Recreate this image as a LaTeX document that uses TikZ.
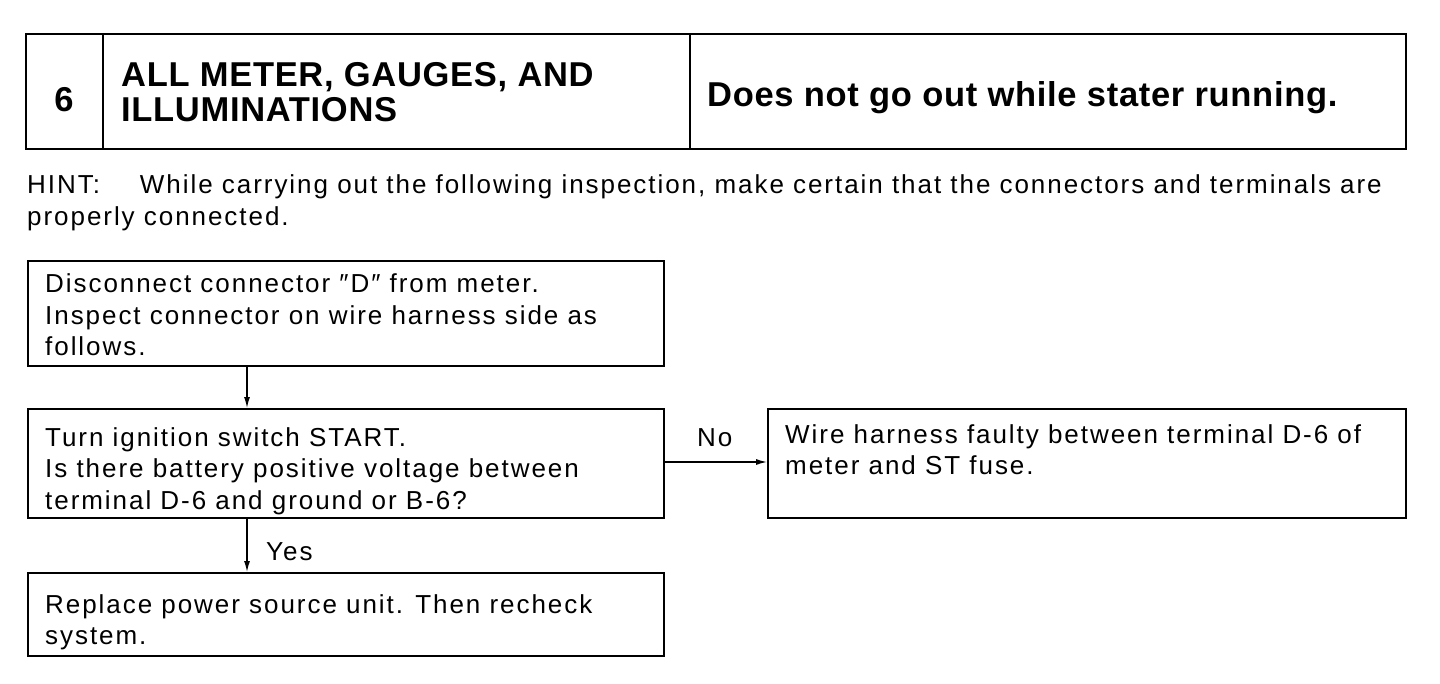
\documentclass[tikz,border=0pt]{standalone}
\usepackage{fontspec}
\setmainfont{Liberation Sans}
\usetikzlibrary{arrows.meta,calc}
\newcommand{\lines}[1]{\parbox[t]{1380pt}{\raggedright #1}}
\begin{document}
\begin{tikzpicture}[x=1pt,y=-1pt,
  frame/.style={draw=black,line width=1.6pt,inner sep=0pt},
  txt/.style={inner sep=0pt,anchor=base west,font=\fontsize{26}{31.5}\selectfont\addfontfeature{LetterSpace=7.5}},
  head/.style={inner sep=0pt,font=\fontsize{34.5}{35}\bfseries\selectfont\addfontfeature{LetterSpace=2}},
  conn/.style={line width=1.3pt,-{Latex[length=11pt,width=6pt]}}]
\useasboundingbox (0,0) rectangle (1440,684);
% header
\node[frame,anchor=north west,minimum width=1380,minimum height=115] (hdr) at (25,33) {};
\coordinate (d1t) at (103,33); \coordinate (d1b) at (103,148);
\coordinate (d2t) at (690,33); \coordinate (d2b) at (690,148);
\draw[line width=1.2pt] (d1t) -- (d1b);
\draw[line width=1.2pt] (d2t) -- (d2b);
\node[head,anchor=base] (num) at (64,112) {6};
\node[head,anchor=base west] (title) at (121,87) {\lines{ALL METER, GAUGES, AND\\ILLUMINATIONS}};
\node[head,anchor=base west] (sym) at (707,107) {Does not go out while stater running.};
% hint
\node[txt] (hint) at (27,194) {\lines{HINT:\hspace{40pt}While carrying out the following inspection, make certain that the connectors and terminals are\\properly connected.}};
% boxes
\node[frame,anchor=north west,minimum width=636,minimum height=105] (b1) at (27,260) {};
\node[txt] (t1) at (45,293) {\lines{Disconnect connector ″D″ from meter.\\Inspect connector on wire harness side as\\follows.}};
\node[frame,anchor=north west,minimum width=636,minimum height=109] (b2) at (27,408) {};
\node[txt] (t2) at (45,446) {\lines{Turn ignition switch START.\\Is there battery positive voltage between\\terminal D-6 and ground or B-6?}};
\node[frame,anchor=north west,minimum width=638,minimum height=109] (b3) at (767,408) {};
\node[txt] (t3) at (785,443) {\lines{Wire harness faulty between terminal D-6 of\\meter and ST fuse.}};
\node[frame,anchor=north west,minimum width=636,minimum height=83] (b4) at (27,572) {};
\node[txt] (t4) at (45,613) {\lines{Replace power source unit. Then recheck\\system.}};
% connectors
\draw[conn] (b1.south west) ++(220,0) coordinate (a1) -- (a1 |- b2.north);
\draw[conn] (b2.east |- 0,462) coordinate (a2) -- (b3.west |- a2);
\draw[conn] (b2.south west) ++(220,0) coordinate (a3) -- (a3 |- b4.north);
\node[txt] (no) at (697,446) {No};
\node[txt] (yes) at (266,560) {Yes};
\end{tikzpicture}
\end{document}
